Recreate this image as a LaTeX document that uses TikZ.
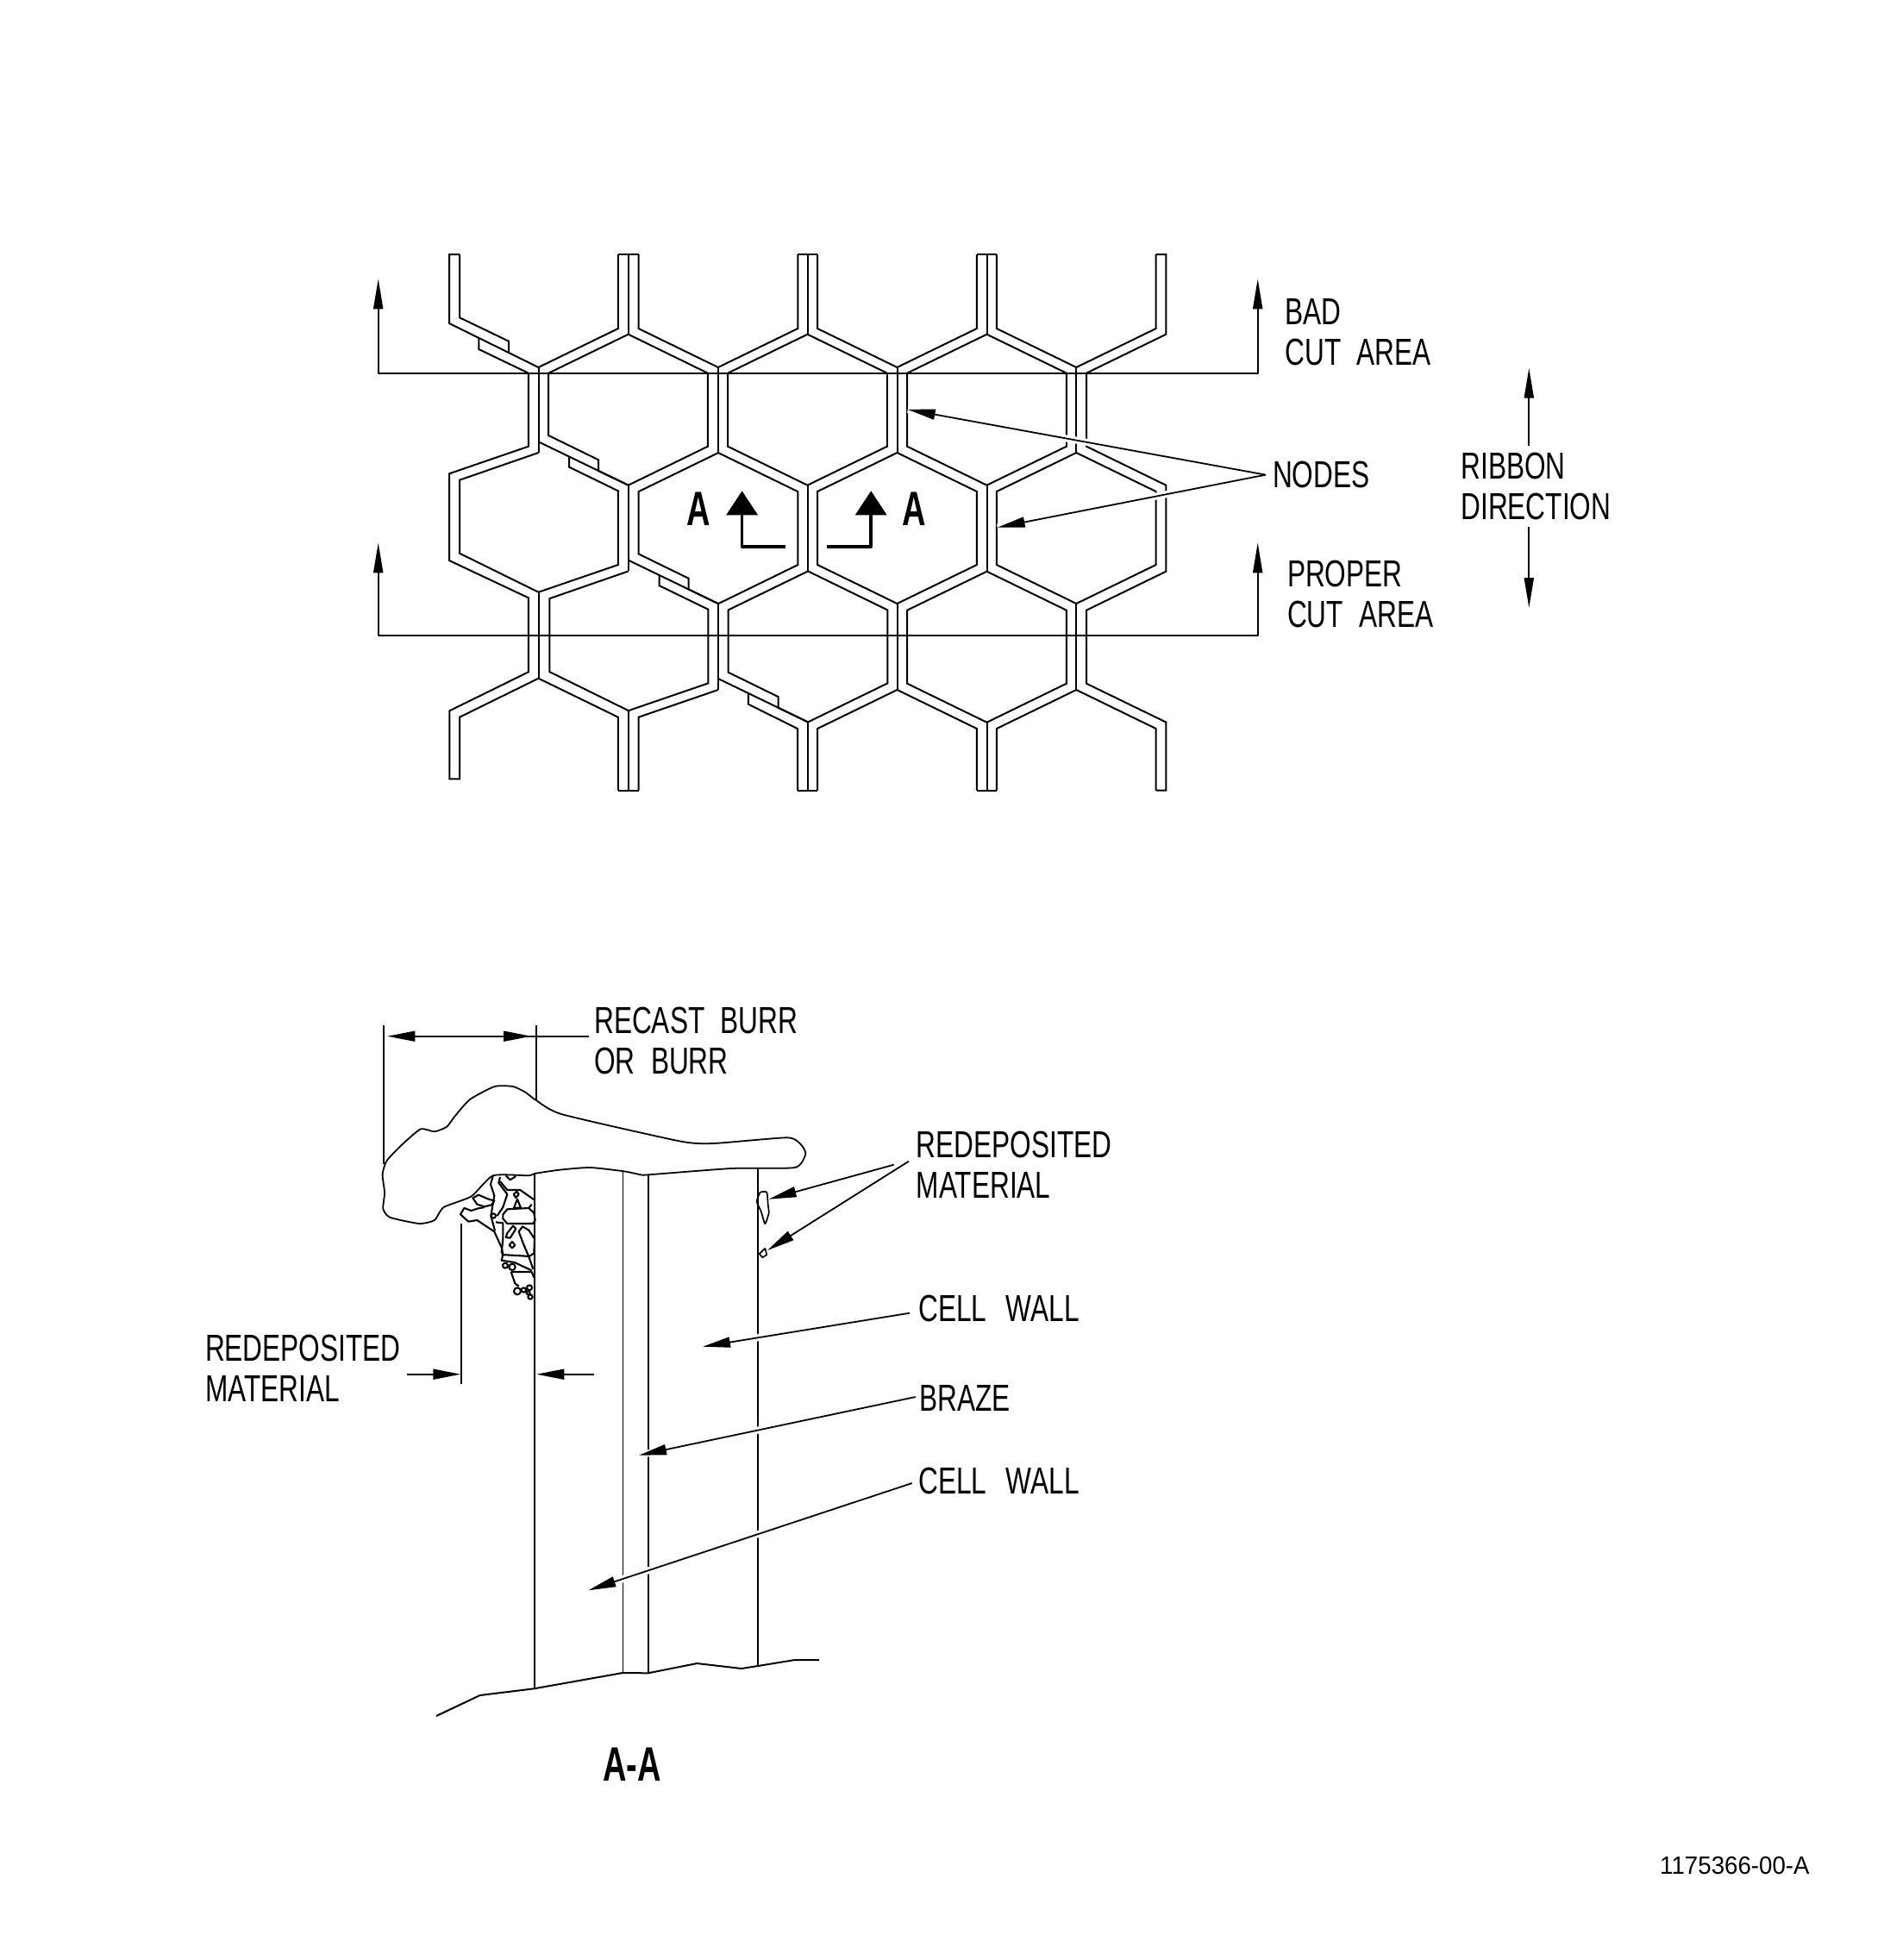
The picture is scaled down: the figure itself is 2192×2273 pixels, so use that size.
\documentclass[tikz,border=0pt]{standalone}
\usepackage{fontspec}
\setmainfont[FakeStretch=0.725,WordSpace=2.1]{Liberation Sans}
\newfontfamily\markfont[FakeStretch=0.68]{Liberation Sans}
\newfontfamily\idfont[FakeStretch=0.955]{Liberation Sans}
\usetikzlibrary{arrows.meta}
\tikzset{
  wall/.style={line width=2pt,line join=miter},
  cutline/.style={line width=2pt,{Triangle[length=35pt,width=11pt]}-{Triangle[length=35pt,width=11pt]}},
  leader/.style={line width=1.8pt,-{Triangle[length=32pt,width=12pt]}},
  halo/.style={draw=white,line width=8pt},
  secarrow/.style={line width=3.6pt,-{Triangle[length=28pt,width=36pt]}},
  edge/.style={line width=1.5pt},
  lbl/.style={anchor=north west,xshift=-1.5pt,inner sep=0pt,align=left,font=\fontsize{43.6}{47}\selectfont},
  seclbl/.style={inner sep=0pt,font=\fontsize{56}{60}\markfont\bfseries},
  blob/.style={line width=2.1pt,line join=round}
}
\begin{document}
\begin{tikzpicture}[x=1pt,y=-1pt,line join=round]
  \useasboundingbox (0,0) rectangle (2192,2273);
  \def\wx{92.4} \def\ctop{295} \def\cbot{916.7}

  % whole cells
  \foreach \cx/\ay in {936.5/387.7,1144.5/387.7,1040.5/525,1248.3/525,1144.5/662.7}
    \draw[wall] (\cx,\ay) -- ++(\wx,45) -- ++(0,85) -- ++(-\wx,45) -- ++(-\wx,-45) -- ++(0,-85) -- cycle;
  % cells cut by the top and bottom edges
  \foreach \cx in {832.9,1040.5,1248.3}
    \draw[wall] (\cx-\wx,\ctop) -- (\cx-\wx,381) -- (\cx,426) -- (\cx+\wx,381) -- (\cx+\wx,\ctop);
  \foreach \cx in {1040.5,1248.3}
    \draw[wall] (\cx-\wx,\cbot) -- (\cx-\wx,845) -- (\cx,800) -- (\cx+\wx,845) -- (\cx+\wx,\cbot);
  % node bonds
  \foreach \nx/\ya/\yb in {624.5/426/525,624.5/686.7/786.7,832.9/426/525,832.9/700/800,
      1040.5/426/525,1040.5/700/800,1248.3/426/525,1248.3/700/800,
      728.9/295/387.7,728.9/562.7/661.7,728.9/824/916.7,
      936.5/295/387.7,936.5/562.7/662.7,936.5/837.5/916.7,
      1144.5/295/387.7,1144.5/562.7/662.7,1144.5/837.5/916.7}
    \draw[wall] (\nx,\ya) -- (\nx,\yb);
  % end bars
  \foreach \nx in {728.9,936.5,1144.5} {
    \draw[wall] (\nx-11.8,\ctop) -- (\nx+11.8,\ctop);
    \draw[wall] (\nx-11.8,\cbot) -- (\nx+11.8,\cbot);
  }

  % stepped break, upper and lower side of each step
  \foreach \fx/\fy in {624.5/512.3,728.9/649.7,832.9/787} {
    \draw[wall] (\fx,\fy) -- ++(104.2,50.4);
    \draw[wall] (\fx+69.6,\fy+33.7) -- (\fx+104.2,\fy+50.4) -- (\fx+196.4,\fy+5.4) -- (\fx+196.4,\fy-79.6)
      -- (\fx+104.2,\fy-124.6) -- (\fx+11.7,\fy-79.6) -- (\fx+11.7,\fy-7.3) -- (\fx+69.6,\fy+21) -- cycle;
  }
  \foreach \fx/\fy in {624.5/512.3,728.9/649.7}
    \draw[wall] (\fx+35.7,\fy+17.2) -- (\fx+35.7,\fy+29.4) -- (\fx+92.4,\fy+57) -- (\fx+92.4,\fy+142.7)
      -- (\fx,\fy+174.4) -- (\fx-91.5,\fy+129.4) -- (\fx-91.5,\fy+44.4) -- (\fx,\fy+12.7);
  \draw[wall] (867.9,804) -- (867.9,816.7) -- (925,845) -- (925,\cbot);
  \draw[wall] (832.9,800) -- (740.5,831.7) -- (740.5,\cbot);

  % left edge
  \draw[wall] (533,\ctop) -- (521,\ctop) -- (521,375) -- (624.5,426);
  \draw[wall] (533,\ctop) -- (533,368.3) -- (590,395.7) -- (590,408.3);
  \draw[wall] (716.9,\ctop) -- (716.9,381) -- (624.5,426);
  \draw[wall] (555.3,392.3) -- (555.3,405) -- (612.9,432.7) -- (612.9,517.7) -- (521,549.3) -- (521,650)
    -- (612.9,693.3) -- (612.9,779.3) -- (521.3,824.3) -- (521.3,903.3) -- (533,903.3) -- (533,831.7)
    -- (624.5,786.7) -- (716.9,831.7) -- (716.9,\cbot);
  % right edge
  \draw[wall] (1340.7,\ctop) -- (1352.3,\ctop) -- (1352.3,387.7) -- (1260,432.7) -- (1260,517.7) -- (1352.3,562.7)
    -- (1352.3,662.7) -- (1260,707.7) -- (1260,792.7) -- (1352.3,837.5) -- (1352.3,\cbot) -- (1340.7,\cbot);

  % cut lines
  \coordinate (badL) at (438.7,323.3);  \coordinate (badR) at (1458.7,323.3);
  \coordinate (propL) at (438.7,629.3); \coordinate (propR) at (1458.7,629.3);
  \draw[cutline] (badL) -- (438.7,432.7) -- (1458.7,432.7) -- (badR);
  \draw[cutline] (propL) -- (438.7,736.7) -- (1458.7,736.7) -- (propR);

  % section marks
  \node[seclbl] (markL) at (810.2,590.5) {A};
  \node[seclbl] (markR) at (1060,590.5) {A};
  \draw[secarrow] (911,634) -- (860.6,634) -- (860.6,569.3);
  \draw[secarrow] (959.3,634) -- (1010.2,634) -- (1010.2,569.3);

  % labels, top view
  \node[lbl] (badcut) at (1491.7,346) {BAD\\CUT AREA};
  \node[lbl] (propcut) at (1494.3,650) {PROPER\\CUT AREA};
  \node[lbl] (ribbon) at (1695.7,525) {RIBBON\\DIRECTION};
  \node[lbl] (nodes) at (1477.3,535) {NODES};

  \coordinate (ribUp) at (1773.3,426.7);  \coordinate (ribUpS) at (1773.3,516.7);
  \coordinate (ribDn) at (1773.3,705);    \coordinate (ribDnS) at (1773.3,611);
  \draw[cutline,{Triangle[length=35pt,width=11pt]}-] (ribUp) -- (ribUpS);
  \draw[cutline,-{Triangle[length=35pt,width=11pt]}] (ribDnS) -- (ribDn);

  \coordinate (nodeA) at (1052.7,474.9);
  \coordinate (nodeB) at (1156.7,611.7);
  \draw[halo] ([xshift=-8pt]nodes.west) -- (nodeA) ([xshift=-8pt]nodes.west) -- (nodeB);
  \draw[leader] ([xshift=-8pt]nodes.west) -- (nodeA);
  \draw[leader] ([xshift=-8pt]nodes.west) -- (nodeB);

  % section A-A
  \draw[blob,line width=1.8pt] plot[smooth cycle,tension=0.35] coordinates {(621.8,1276) (652.1,1292.3) (787.9,1323.3)
    (827.1,1326) (912.9,1319.3) (928.9,1327.3) (934.3,1338.3) (921.8,1354) (848.6,1355) (752.1,1362.3)
    (743.2,1362.3) (723.6,1358.3) (684.3,1354) (648.6,1356.7) (620,1361) (612.9,1363.3) (571.8,1363.3)
    (546.8,1387.3) (514.6,1400) (503.9,1415) (486.1,1419) (452.1,1411.7) (444.3,1401.7) (446.1,1383.3)
    (443.6,1361.7) (448.6,1346) (466.4,1327.3) (487.9,1309.3) (503.9,1312.3) (518.2,1306.7) (527.1,1295)
    (545,1275) (573.6,1260) (595,1260) (609.3,1266.7)};

  \draw[edge] (620,1362) -- (620,1958.3);
  \draw[line width=2.4pt] (534.7,1419.3) -- (534.7,1605);
  \draw[edge] (722.5,1358.3) -- (722.5,1940);
  \draw[edge] (752,1362.3) -- (752,1940.3);
  \draw[line width=1.9pt] (879,1355) -- (879,1932);
  \draw[line width=2.6pt] (620,1362) -- (620,1510);
  \draw[edge,line width=2pt] (506,1990) -- (556.7,1966) -- (619.3,1958.3) -- (722.3,1940) -- (751.7,1940.3)
    -- (808.3,1929) -- (860,1935) -- (879,1932) -- (921.7,1925) -- (950,1925);

  % redeposited material under the burr
  \begin{scope}[shift={(520,1340)},x=0.3333pt,y=-0.3333pt]
    \draw[blob] (85,148) -- (105,137) -- (135,150) -- (160,158) -- (150,172) -- (125,178) -- (100,170) -- cycle;
    \draw[blob] (125,180) -- (100,185) -- (80,192) -- (55,183) -- (42,205) -- (70,230) -- (100,225) -- (160,265)
      -- (185,320) -- (190,345) -- (185,365) -- (230,372) -- (290,400);
    \draw[blob] (155,72) -- (147,100) -- (160,140) -- (148,210) -- (162,262);
    \draw[blob] (180,75) -- (175,95) -- (205,135) -- (190,180) -- (170,210);
    \draw[blob] (180,90) -- (205,120) -- (250,120) -- (300,155);
    \draw[blob] (190,205) -- (205,187) -- (280,183) -- (298,200) -- (302,225) -- (295,237) -- (205,237) -- (190,220) -- cycle;
    \draw[blob] (238,125) -- (245,135) -- (235,147) -- (227,135) -- cycle;
    \draw[blob] (240,152) -- (252,182) -- (228,182) -- cycle;
    \draw[blob] (157,210) circle (8);
    \draw[blob] (165,232) -- (190,235) -- (190,290) -- (185,340);
    \draw[blob] (225,245) -- (235,255) -- (215,287) -- (200,285) -- (205,270) -- cycle;
    \draw[blob] (222,300) -- (232,312) -- (222,322) -- (212,312) -- cycle;
    \draw[blob] (245,265) -- (258,247) -- (280,260) -- (300,290) -- (298,340) -- (280,352) -- (262,310) -- cycle;
    \draw[blob] (185,345) -- (270,350) -- (280,352) -- (295,395);
    \draw[blob] (198,383) circle (9) (222,388) circle (11);
    \draw[blob] (218,405) -- (290,405) -- (298,425) (218,405) -- (232,445) -- (245,455);
    \draw[blob] (240,472) circle (12) (262,468) circle (8) (282,460) circle (9) (285,492) circle (8) (278,478) circle (6);
    \draw[blob] (290,170) -- (278,185) (200,70) -- (215,85) -- (235,72);
  \end{scope}
  % specks on the right wall
  \draw[blob,line width=1.7pt] plot[smooth cycle,tension=0.3] coordinates {(881.7,1382.7) (889.3,1382.7) (890.7,1396.7)
    (891.7,1406.7) (887.3,1419.3) (882.7,1405) (877.7,1393.3)};
  \draw[blob,line width=1.7pt] (887.3,1447.7) -- (889.3,1455) -- (884.3,1458.3) -- (880.7,1454) -- cycle;

  % labels, section
  \node[lbl] (recast) at (690.5,1168.3) {RECAST BURR\\OR BURR};
  \node[lbl] (redepR) at (1064,1311.7) {REDEPOSITED\\MATERIAL};
  \node[lbl] (redepL) at (239.3,1548.3) {REDEPOSITED\\MATERIAL};
  \node[lbl] (wallUp) at (1066.7,1502.3) {CELL\hspace{4pt} WALL};
  \node[lbl] (brazeL) at (1067.7,1606.7) {BRAZE};
  \node[lbl] (wallDn) at (1066.7,1701.7) {CELL\hspace{4pt} WALL};
  \node[seclbl] (secAA) at (733.3,2046.7) {A-A};
  \node[anchor=north west,inner sep=0pt,font=\fontsize{29}{32}\idfont] (drawno) at (1925,2152.7) {1175366-00-A};

  % burr width
  \coordinate (dimL) at (449.3,1201.7);
  \coordinate (dimR) at (616,1201.7);
  \coordinate (dimM) at (550,1201.7);
  \coordinate (dimS) at (682.7,1201.7);
  \draw[edge,line width=1.8pt] (445,1189.3) -- (445,1350) (621.8,1189.3) -- (621.8,1276);
  \draw[leader] (dimS) -- (dimL);
  \draw[leader] (dimM) -- (dimR);

  % deposit width
  \coordinate (depL) at (534.3,1593.7);
  \coordinate (depR) at (622.3,1593.7);
  \coordinate (depM) at (689,1593.7);
  \coordinate (depT) at (472.3,1593.7);
  \draw[leader] (depT) -- (depL);
  \draw[leader] (depM) -- (depR);

  % leaders
  \coordinate (specA) at (891.7,1390.7);
  \coordinate (specB) at (890,1450);
  \coordinate (specS) at (1036.7,1350.7);
  \coordinate (specT) at (1054,1346.7);
  \coordinate (wallA) at (815,1561.7);
  \coordinate (wallS) at (1055,1522.7);
  \coordinate (brazeA) at (741,1687.7);
  \coordinate (brazeS) at (1061.7,1620);
  \coordinate (wallB) at (682.3,1844.3);
  \coordinate (wallT) at (1057.7,1720);
  \draw[leader] (specS) -- (specA);
  \draw[leader] (specT) -- (specB);
  \draw[halo] (wallS) -- (wallA);
  \draw[leader] (wallS) -- (wallA);
  \draw[halo] (brazeS) -- (brazeA);
  \draw[leader] (brazeS) -- (brazeA);
  \draw[halo] (wallT) -- (wallB);
  \draw[leader] (wallT) -- (wallB);
\end{tikzpicture}
\end{document}
